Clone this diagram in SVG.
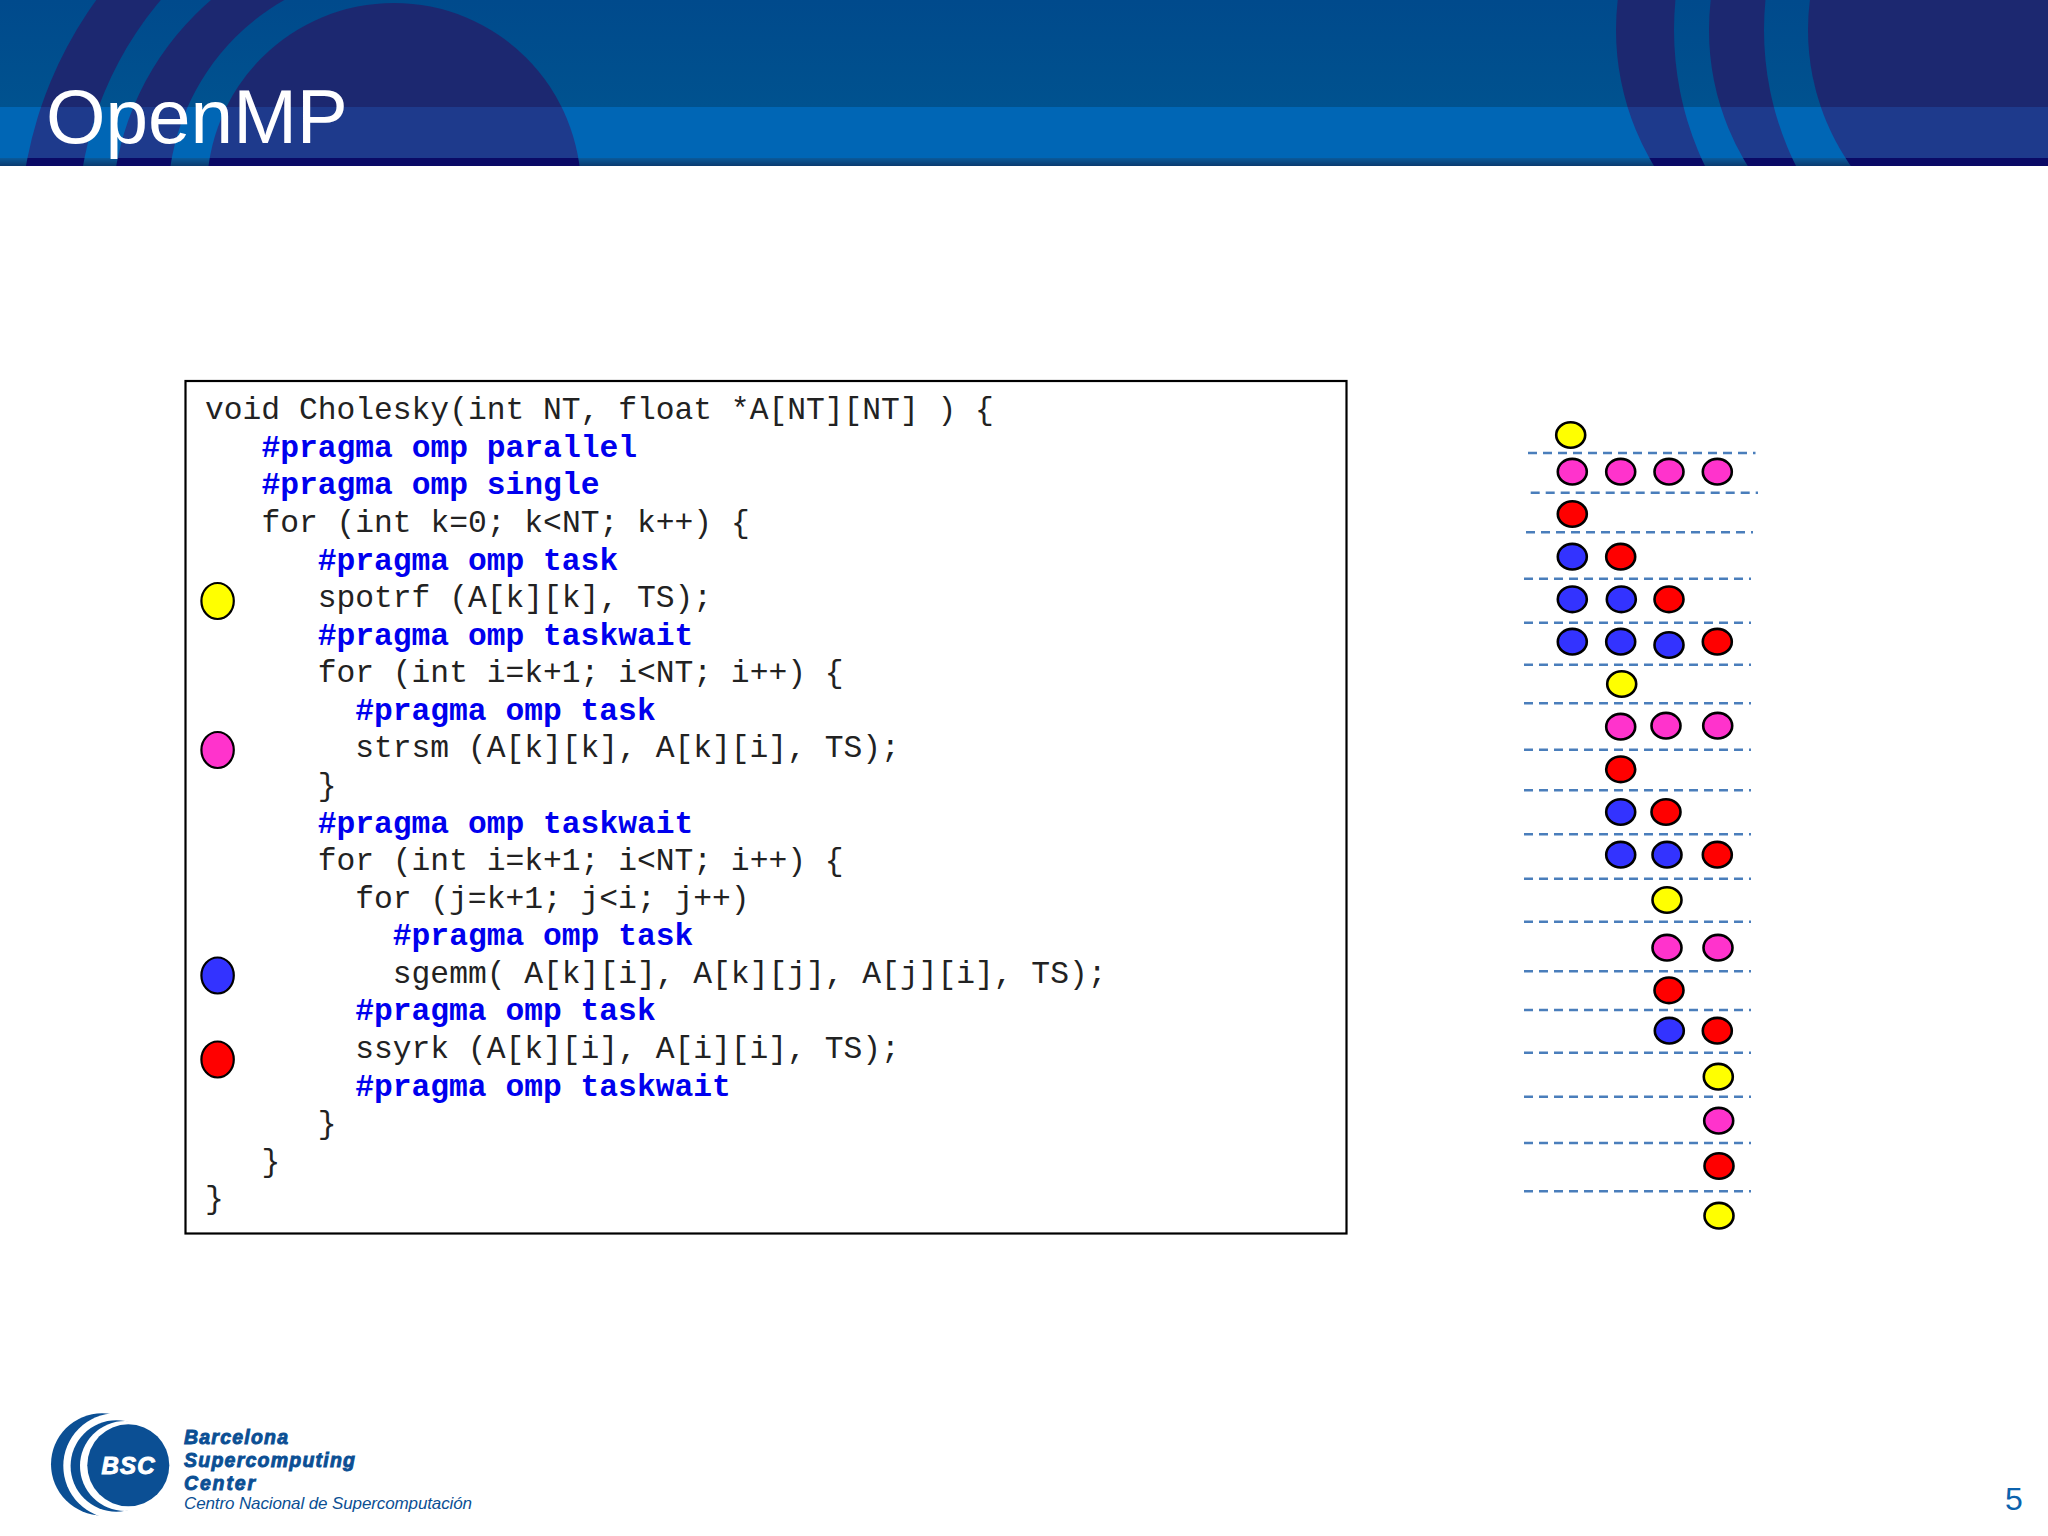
<svg xmlns="http://www.w3.org/2000/svg" width="2048" height="1536" viewBox="0 0 2048 1536">
<style>
.c{font-family:"Liberation Mono",monospace;font-size:31.3px;fill:#222}
.p{font-family:"Liberation Mono",monospace;font-size:31.3px;font-weight:bold;fill:#0000ee}
.d{stroke:#000;stroke-width:2.6}
.l{stroke:#000;stroke-width:2.2}
.y{fill:#ffff00}.k{fill:#ff33cc}.b{fill:#3333ff}.r{fill:#ff0000}
.dash{stroke:#4a7ebb;stroke-width:2.6;stroke-dasharray:9 6;fill:none}
.lg{font-family:"Liberation Sans",Arial,sans-serif;font-weight:bold;font-style:italic;fill:#0b4f94;stroke:#0b4f94;stroke-width:.9}
</style>
<defs>
<linearGradient id="topg" x1="0" y1="0" x2="0" y2="1"><stop offset="0" stop-color="#004a8c"/><stop offset="1" stop-color="#00528f"/></linearGradient>
<linearGradient id="stripg" x1="0" y1="0" x2="0" y2="1"><stop offset="0" stop-color="#0a5a9a"/><stop offset="1" stop-color="#0a3a70"/></linearGradient>
<clipPath id="ct"><rect x="0" y="0" width="2048" height="107"/></clipPath>
<clipPath id="cm"><rect x="0" y="107" width="2048" height="51"/></clipPath>
<clipPath id="cb"><rect x="0" y="158" width="2048" height="8"/></clipPath>
<clipPath id="cl"><rect x="0" y="0" width="394" height="166"/></clipPath>
<g id="arcs">
<g clip-path="url(#cl)">
<path fill-rule="evenodd" d="M20 235a400 400 0 1 0 800 0a400 400 0 1 0 -800 0ZM78 225a347 347 0 1 0 694 0a347 347 0 1 0 -694 0Z"/>
<path fill-rule="evenodd" d="M112 215a283 283 0 1 0 566 0a283 283 0 1 0 -566 0ZM168 200a230 230 0 1 0 460 0a230 230 0 1 0 -460 0Z"/>
</g>
<circle cx="394" cy="190" r="187"/>
<path fill-rule="evenodd" d="M1616 30a262 262 0 1 0 524 0a262 262 0 1 0 -524 0ZM1674 30a314 314 0 1 0 628 0a314 314 0 1 0 -628 0Z"/>
<path fill-rule="evenodd" d="M1709 30a257 257 0 1 0 514 0a257 257 0 1 0 -514 0ZM1764 30a305 305 0 1 0 610 0a305 305 0 1 0 -610 0Z"/>
<circle cx="2045" cy="30" r="237"/>
</g>
</defs>
<rect width="2048" height="1536" fill="#ffffff"/>
<g id="header">
<rect width="2048" height="107" fill="url(#topg)"/>
<rect y="107" width="2048" height="51" fill="#0066b5"/>
<rect y="158" width="2048" height="8" fill="url(#stripg)"/>
<use href="#arcs" clip-path="url(#ct)" fill="#1c2870"/>
<use href="#arcs" clip-path="url(#cm)" fill="#1e3a8c"/>
<use href="#arcs" clip-path="url(#cb)" fill="#0a0a66"/>
<text x="46" y="143" font-family="'Liberation Sans',Arial,sans-serif" font-size="76.500" fill="#ffffff">OpenMP</text>
</g>
<g id="code-box">
<rect x="185.500" y="381" width="1161" height="852.500" fill="#ffffff" stroke="#000" stroke-width="2.200"/>
<g transform="translate(-1 1.300)">
<text class="c" x="206" y="418">void Cholesky(int NT, float *A[NT][NT] ) {</text>
<text class="p" x="262.400" y="455.600">#pragma omp parallel</text>
<text class="p" x="262.400" y="493.100">#pragma omp single</text>
<text class="c" x="262.400" y="530.700">for (int k=0; k&lt;NT; k++) {</text>
<text class="p" x="318.700" y="568.300">#pragma omp task</text>
<text class="c" x="318.700" y="605.900">spotrf (A[k][k], TS);</text>
<text class="p" x="318.700" y="643.400">#pragma omp taskwait</text>
<text class="c" x="318.700" y="681">for (int i=k+1; i&lt;NT; i++) {</text>
<text class="p" x="356.200" y="718.600">#pragma omp task</text>
<text class="c" x="356.200" y="756.100">strsm (A[k][k], A[k][i], TS);</text>
<text class="c" x="318.700" y="793.700">}</text>
<text class="p" x="318.700" y="831.300">#pragma omp taskwait</text>
<text class="c" x="318.700" y="868.800">for (int i=k+1; i&lt;NT; i++) {</text>
<text class="c" x="356.200" y="906.400">for (j=k+1; j&lt;i; j++)</text>
<text class="p" x="393.800" y="944">#pragma omp task</text>
<text class="c" x="393.800" y="981.600">sgemm( A[k][i], A[k][j], A[j][i], TS);</text>
<text class="p" x="356.200" y="1019.100">#pragma omp task</text>
<text class="c" x="356.200" y="1056.700">ssyrk (A[k][i], A[i][i], TS);</text>
<text class="p" x="356.200" y="1094.300">#pragma omp taskwait</text>
<text class="c" x="318.700" y="1131.800">}</text>
<text class="c" x="262.400" y="1169.400">}</text>
<text class="c" x="206" y="1207">}</text>
</g>
</g>
<g id="legend">
<ellipse id="legend-yellow" class="l y" cx="217.600" cy="601" rx="16.200" ry="18"/>
<ellipse id="legend-pink" class="l k" cx="217.600" cy="750" rx="16.200" ry="18"/>
<ellipse id="legend-blue" class="l b" cx="217.600" cy="975.500" rx="16.200" ry="18"/>
<ellipse id="legend-red" class="l r" cx="217.600" cy="1059.500" rx="16.200" ry="18"/>
</g>
<g id="connectors">
<path class="dash" d="M1528 453H1755.500"/>
<path class="dash" d="M1530.700 492.700H1758"/>
<path class="dash" d="M1526 532.300H1753"/>
<path class="dash" d="M1524 578.700H1751"/>
<path class="dash" d="M1524 622.700H1751"/>
<path class="dash" d="M1524 664.700H1751"/>
<path class="dash" d="M1524 703.300H1751"/>
<path class="dash" d="M1524 749.700H1751"/>
<path class="dash" d="M1524 790.300H1751"/>
<path class="dash" d="M1524 834.300H1751"/>
<path class="dash" d="M1524 878.700H1751"/>
<path class="dash" d="M1524 921.700H1751"/>
<path class="dash" d="M1524 971.300H1751"/>
<path class="dash" d="M1524 1010H1751"/>
<path class="dash" d="M1524 1052.700H1751"/>
<path class="dash" d="M1524 1096.700H1751"/>
<path class="dash" d="M1524 1143H1751"/>
<path class="dash" d="M1524 1191.300H1751"/>
</g>
<g id="tasks">
<g id="t1"><ellipse class="d y" cx="1570.700" cy="435" rx="14.500" ry="12.800"/></g>
<g id="t2"><ellipse class="d k" cx="1572.300" cy="471.700" rx="14.500" ry="12.800"/></g>
<g id="t3"><ellipse class="d k" cx="1620.700" cy="471.700" rx="14.500" ry="12.800"/></g>
<g id="t4"><ellipse class="d k" cx="1669" cy="471.700" rx="14.500" ry="12.800"/></g>
<g id="t5"><ellipse class="d k" cx="1717.300" cy="471.700" rx="14.500" ry="12.800"/></g>
<g id="t6"><ellipse class="d r" cx="1572.300" cy="514" rx="14.500" ry="12.800"/></g>
<g id="t7"><ellipse class="d b" cx="1572.300" cy="556.700" rx="14.500" ry="12.800"/></g>
<g id="t8"><ellipse class="d r" cx="1620.700" cy="556.700" rx="14.500" ry="12.800"/></g>
<g id="t9"><ellipse class="d b" cx="1572.300" cy="599.300" rx="14.500" ry="12.800"/></g>
<g id="t10"><ellipse class="d b" cx="1621.300" cy="599.300" rx="14.500" ry="12.800"/></g>
<g id="t11"><ellipse class="d r" cx="1669" cy="599.300" rx="14.500" ry="12.800"/></g>
<g id="t12"><ellipse class="d b" cx="1572.300" cy="641.700" rx="14.500" ry="12.800"/></g>
<g id="t13"><ellipse class="d b" cx="1620.700" cy="641.700" rx="14.500" ry="12.800"/></g>
<g id="t14"><ellipse class="d b" cx="1669" cy="645" rx="14.500" ry="12.800"/></g>
<g id="t15"><ellipse class="d r" cx="1717.300" cy="641.700" rx="14.500" ry="12.800"/></g>
<g id="t16"><ellipse class="d y" cx="1621.700" cy="684" rx="14.500" ry="12.800"/></g>
<g id="t17"><ellipse class="d k" cx="1620.700" cy="726.700" rx="14.500" ry="12.800"/></g>
<g id="t18"><ellipse class="d k" cx="1666" cy="725.700" rx="14.500" ry="12.800"/></g>
<g id="t19"><ellipse class="d k" cx="1717.700" cy="725.700" rx="14.500" ry="12.800"/></g>
<g id="t20"><ellipse class="d r" cx="1620.700" cy="769.300" rx="14.500" ry="12.800"/></g>
<g id="t21"><ellipse class="d b" cx="1620.700" cy="812" rx="14.500" ry="12.800"/></g>
<g id="t22"><ellipse class="d r" cx="1666" cy="812" rx="14.500" ry="12.800"/></g>
<g id="t23"><ellipse class="d b" cx="1620.700" cy="854.700" rx="14.500" ry="12.800"/></g>
<g id="t24"><ellipse class="d b" cx="1667" cy="854.700" rx="14.500" ry="12.800"/></g>
<g id="t25"><ellipse class="d r" cx="1717.300" cy="854.700" rx="14.500" ry="12.800"/></g>
<g id="t26"><ellipse class="d y" cx="1667" cy="900" rx="14.500" ry="12.800"/></g>
<g id="t27"><ellipse class="d k" cx="1667" cy="947.700" rx="14.500" ry="12.800"/></g>
<g id="t28"><ellipse class="d k" cx="1718" cy="947.700" rx="14.500" ry="12.800"/></g>
<g id="t29"><ellipse class="d r" cx="1669" cy="990.300" rx="14.500" ry="12.800"/></g>
<g id="t30"><ellipse class="d b" cx="1669.300" cy="1030.700" rx="14.500" ry="12.800"/></g>
<g id="t31"><ellipse class="d r" cx="1717.300" cy="1030.700" rx="14.500" ry="12.800"/></g>
<g id="t32"><ellipse class="d y" cx="1718.300" cy="1076.700" rx="14.500" ry="12.800"/></g>
<g id="t33"><ellipse class="d k" cx="1718.700" cy="1120.700" rx="14.500" ry="12.800"/></g>
<g id="t34"><ellipse class="d r" cx="1719" cy="1166" rx="14.500" ry="12.800"/></g>
<g id="t35"><ellipse class="d y" cx="1719" cy="1215.700" rx="14.500" ry="12.800"/></g>
</g>
<g id="logo">
<circle cx="102" cy="1464.300" r="51" fill="#0b4f94"/>
<circle cx="116" cy="1466" r="52.700" fill="#fff"/>
<circle cx="116.300" cy="1466" r="45.700" fill="#0b4f94"/>
<circle cx="125" cy="1466" r="45" fill="#fff"/>
<circle cx="128.300" cy="1465.300" r="41" fill="#0b4f94"/>
<text x="101.500" y="1474" font-family="'Liberation Sans',Arial,sans-serif" font-weight="bold" font-style="italic" font-size="24" fill="#fff" stroke="#fff" stroke-width="1" textLength="53">BSC</text>
<text class="lg" x="184" y="1443.500" font-size="19.500" textLength="104">Barcelona</text>
<text class="lg" x="184" y="1466.500" font-size="19.500" textLength="171">Supercomputing</text>
<text class="lg" x="184" y="1489.500" font-size="19.500" textLength="71">Center</text>
<text x="184" y="1509" font-family="'Liberation Sans',Arial,sans-serif" font-style="italic" font-size="17" fill="#0b4f94" textLength="288">Centro Nacional de Supercomputación</text>
</g>
<text id="page" x="2005" y="1510" font-family="'Liberation Sans',Arial,sans-serif" font-size="32" fill="#0b62ad">5</text>
</svg>
